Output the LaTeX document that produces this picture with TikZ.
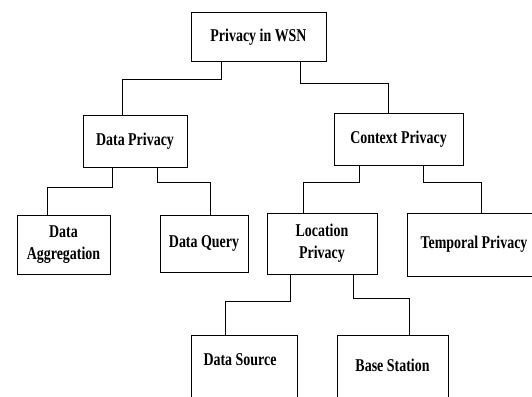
\documentclass[tikz,border=0pt]{standalone}
\usepackage{fontspec}
\setmainfont{Liberation Serif}[FakeStretch=0.775]
\begin{document}
\begin{tikzpicture}[x=1pt,y=-1pt,
  box/.style={draw,line width=1pt,rectangle,inner sep=0pt,align=center,
    font=\fontsize{18}{22}\selectfont\bfseries},
  lbl/.style={inner sep=0pt,align=center,font=\fontsize{18}{22}\selectfont\bfseries},
  wire/.style={line width=1pt}]
\path[use as bounding box,clip] (0,0) rectangle (532,396);
\fill[white] (0,0) rectangle (532,396);
\node[box,minimum width=135pt,minimum height=48pt] (root) at (258.5,37) {Privacy in WSN};
\node[box,minimum width=104pt,minimum height=52pt] (dp) at (135,141) {Data Privacy};
\node[box,minimum width=129pt,minimum height=52pt] (cp) at (398.5,139) {Context Privacy};
\node[box,minimum width=93pt,minimum height=59pt] (da) at (63.5,244.5) {Data\\Aggregation};
\node[box,minimum width=88pt,minimum height=57pt] (dq) at (204,243.5) {Data Query};
\node[box,minimum width=110pt,minimum height=61pt] (lp) at (322,243.5) {Location\\Privacy};
\node[box,minimum width=134pt,minimum height=63pt] (tp) at (474,244.5) {Temporal Privacy};
\node[box,minimum width=106pt,minimum height=80pt,anchor=north] (ds) at (244,335) {};
\node[box,minimum width=111pt,minimum height=80pt,anchor=north] (bs) at (392.5,335) {};
\node[lbl] (dstext) at (240,360) {Data Source};
\node[lbl] (bstext) at (392.5,365) {Base Station};
\draw[wire] (root.south -| 221,0) |- (122,79) -- (dp.north -| 122,0);
\draw[wire] (root.south -| 300.7,0) |- (388,83) -- (cp.north -| 388,0);
\draw[wire] (dp.south -| 112,0) |- (47,187) -- (da.north -| 47,0);
\draw[wire] (dp.south -| 157,0) |- (210,182) -- (dq.north -| 210,0);
\draw[wire] (cp.south -| 359,0) |- (303,182) -- (lp.north -| 303,0);
\draw[wire] (cp.south -| 423,0) |- (481,182) -- (tp.north -| 481,0);
\draw[wire] (lp.south -| 290,0) |- (225,301) -- (ds.north -| 225,0);
\draw[wire] (lp.south -| 353,0) |- (409,298) -- (bs.north -| 409,0);
\end{tikzpicture}
\end{document}
